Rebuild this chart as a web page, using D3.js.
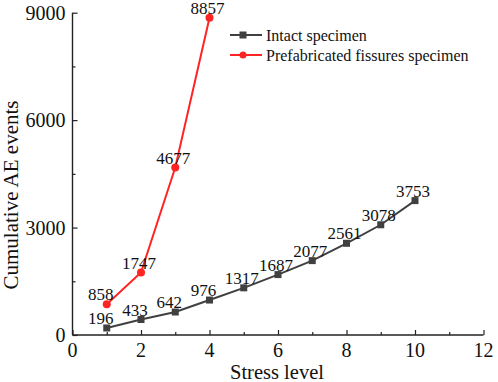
<!DOCTYPE html>
<html><head><meta charset="utf-8">
<script src="https://cdn.jsdelivr.net/npm/d3@7"></script>
<style>body{margin:0;background:#fff}svg{display:block}text{font-family:"Liberation Serif","Times New Roman",serif}</style>
</head><body><svg id="c" width="498" height="382"></svg>
<script>
const stressLevels = [1,2,3,4,5,6,7,8,9,10];
const intactValues = [196,433,642,976,1317,1687,2077,2561,3078,3753];
const fissureLevels = [1,2,3,4];
const fissureValues = [858,1747,4677,8857];
const xTicks = [0,2,4,6,8,10,12];
const yTicks = [0,3000,6000,9000];
const seriesNames = ["Intact specimen","Prefabricated fissures specimen"];
const colors = ["#404040","#ff2424"];

const svg = d3.select("#c");
const x = d3.scaleLinear().domain([0,12]).range([72.5,483.5]);
const y = d3.scaleLinear().domain([0,9000]).range([335,12.7]);
const axisColor = "#222";

// axes
const xAxisG = svg.append("g").attr("transform","translate(0,335)");
xAxisG.call(d3.axisBottom(x).tickValues(d3.range(0,13,1)).tickSize(-5).tickFormat(""));
xAxisG.selectAll(".tick line").attr("y2", d=> d%2===0 ? -5 : -3);
xAxisG.select(".domain").attr("d","M72.5,0H483.5");
const yAxisG = svg.append("g").attr("transform","translate(72.5,0)");
yAxisG.call(d3.axisLeft(y).tickValues(d3.range(0,9001,1500)).tickSize(-5).tickFormat(""));
yAxisG.selectAll(".tick line").attr("x2", d=> d%3000===0 ? 5 : 3);
yAxisG.select(".domain").attr("d","M0,335V12.7");
svg.selectAll(".domain").attr("stroke",axisColor).attr("stroke-width",1.4);
svg.selectAll(".tick line").attr("stroke",axisColor).attr("stroke-width",1.2);

// tick labels
svg.selectAll(".xl").data(xTicks).enter().append("text")
  .attr("x",d=>x(d)).attr("y",357).attr("text-anchor","middle")
  .attr("font-size",20).attr("fill","#111").text(d=>d);
svg.selectAll(".yl").data(yTicks).enter().append("text")
  .attr("x",65.5).attr("y",d=>y(d)+7).attr("text-anchor","end")
  .attr("font-size",20).attr("fill","#111").text(d=>d);

// titles
svg.append("text").attr("x",277).attr("y",378.5).attr("text-anchor","middle")
  .attr("font-size",20.5).attr("fill","#111").text("Stress level");
svg.append("text").attr("transform","translate(18,195) rotate(-90)").attr("text-anchor","middle")
  .attr("font-size",21).attr("fill","#111").text("Cumulative AE events");

const line = d3.line().x(d=>x(d[0])).y(d=>y(d[1]));
const intact = stressLevels.map((s,i)=>[s,intactValues[i]]);
const fiss = fissureLevels.map((s,i)=>[s,fissureValues[i]]);

svg.append("path").datum(intact).attr("d",line).attr("fill","none").attr("stroke",colors[0]).attr("stroke-width",2);
svg.append("path").datum(fiss).attr("d",line).attr("fill","none").attr("stroke",colors[1]).attr("stroke-width",2);

svg.selectAll(".sq").data(intact).enter().append("rect")
  .attr("x",d=>x(d[0])-3.5).attr("y",d=>y(d[1])-3.5).attr("width",7).attr("height",7).attr("fill",colors[0]);
svg.selectAll(".ci").data(fiss).enter().append("circle")
  .attr("cx",d=>x(d[0])).attr("cy",d=>y(d[1])).attr("r",4).attr("fill",colors[1]);

// data labels
function labels(data){
  svg.append("g").selectAll("text").data(data).enter().append("text")
    .attr("x",d=>x(d[0])-(d[0]<=4 && d[1]<1000 ? 6 : 2)).attr("y",d=>y(d[1])-3.8)
    .attr("text-anchor","middle").attr("font-size",17).attr("fill","#111").text(d=>d[1]);
}
labels(intact);
labels(fiss);

// legend
seriesNames.forEach((n,i)=>{
  const ly = 35 + i*20;
  svg.append("line").attr("x1",230).attr("x2",262).attr("y1",ly).attr("y2",ly).attr("stroke",colors[i]).attr("stroke-width",2);
  if(i===0) svg.append("rect").attr("x",239.5).attr("y",ly-3.5).attr("width",7).attr("height",7).attr("fill",colors[i]);
  else svg.append("circle").attr("cx",243).attr("cy",ly).attr("r",3.5).attr("fill",colors[i]);
  svg.append("text").attr("x",266).attr("y",ly+5.5).attr("font-size",16).attr("fill","#111").text(n);
});
</script></body></html>
